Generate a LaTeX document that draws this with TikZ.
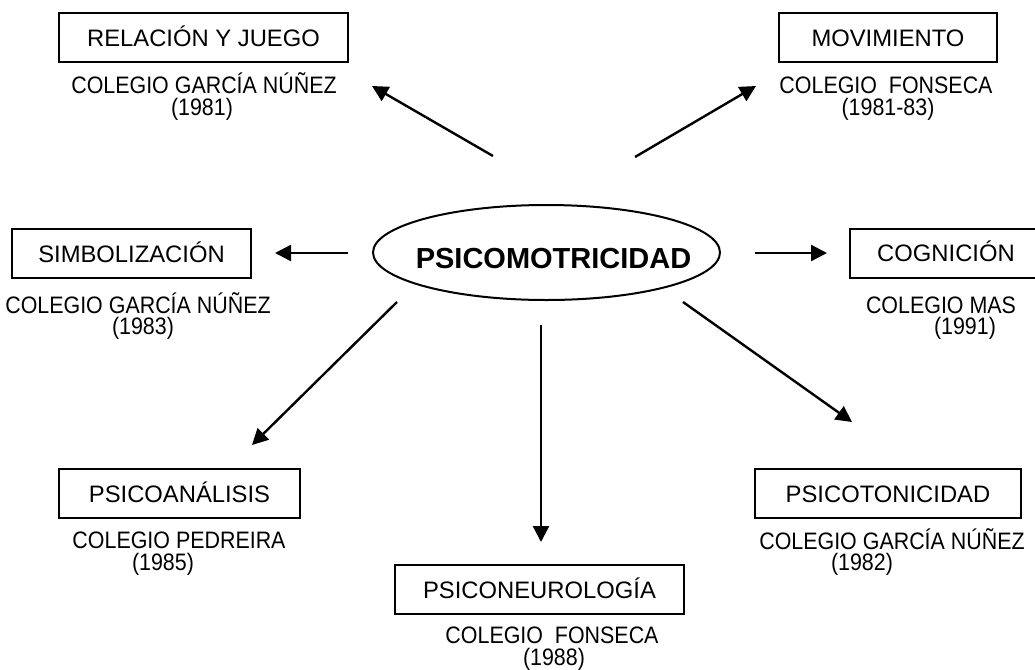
\documentclass[tikz,border=0pt]{standalone}
\usepackage{fontspec}
\setmainfont{Liberation Sans}
\newfontfamily\schoolfont{Liberation Sans}[FakeStretch=0.9]
\usetikzlibrary{arrows.meta,shapes.geometric}

\begin{document}
\begin{tikzpicture}[x=0.5pt, y=-0.5pt, >={Triangle[length=8pt,width=8pt]}, line width=1pt,
  every node/.style={font=\fontsize{11.9}{14}\selectfont, inner sep=0pt},
  topic/.style={draw, minimum height=24.5pt, minimum width=#1, text height=8.5pt, text depth=0pt},
  school/.style={anchor=base, font=\schoolfont\fontsize{11.9}{14}\selectfont}]
\useasboundingbox (0,0) rectangle (1035,670);
\clip (0,0) rectangle (1035,670);
\node[draw, ellipse, minimum width=173.5pt, minimum height=47.5pt, text height=15.9pt, text depth=0pt,
  font=\bfseries\fontsize{14.5}{17}\selectfont] (psico) at (546.5,252.5) {\makebox[0pt]{\hspace{7pt}PSICOMOTRICIDAD}};
\node[topic=144.5pt] (rel) at (203.5,37.5) {RELACIÓN Y JUEGO};
\node[school] (relc) at (204,93) {COLEGIO GARCÍA NÚÑEZ};
\node[school] (rely) at (202,115) {(1981)};
\node[topic=109pt] (mov) at (888,37.5) {MOVIMIENTO};
\node[school] (movc) at (886,93) {COLEGIO\ \ FONSECA};
\node[school] (movy) at (888,115) {(1981-83)};
\node[topic=119.5pt] (sim) at (131.5,253.5) {SIMBOLIZACIÓN};
\node[school] (simc) at (138,313) {COLEGIO GARCÍA NÚÑEZ};
\node[school] (simy) at (143,334) {(1983)};
\node[topic=96pt] (cog) at (946,253) {COGNICIÓN};
\node[school] (cogc) at (941,313) {COLEGIO MAS};
\node[school] (cogy) at (965,334) {(1991)};
\node[topic=120.5pt] (ana) at (179.5,493.5) {PSICOANÁLISIS};
\node[school] (anac) at (179,548) {COLEGIO PEDREIRA};
\node[school] (anay) at (163,570) {(1985)};
\node[topic=144.5pt] (neu) at (539.5,589.5) {PSICONEUROLOGÍA};
\node[school] (neuc) at (552,643) {COLEGIO\ \ FONSECA};
\node[school] (neuy) at (554,665) {(1988)};
\node[topic=133pt] (ton) at (888,493.5) {PSICOTONICIDAD};
\node[school] (tonc) at (892,549) {COLEGIO GARCÍA NÚÑEZ};
\node[school] (tony) at (862,570) {(1982)};
\coordinate (relA) at (493,156); \coordinate (relB) at (372,86);
\coordinate (movA) at (635,157); \coordinate (movB) at (756,86);
\coordinate (simA) at (348,253); \coordinate (simB) at (275,253);
\coordinate (cogA) at (755,253); \coordinate (cogB) at (827,253);
\coordinate (anaA) at (397,302); \coordinate (anaB) at (252,445);
\coordinate (neuA) at (541,325); \coordinate (neuB) at (541,542);
\coordinate (tonA) at (683,302); \coordinate (tonB) at (852,422);
\draw[->, line width=1.2pt] (relA) -- (relB);
\draw[->, line width=1.2pt] (movA) -- (movB);
\draw[->, line width=1.2pt] (simA) -- (simB);
\draw[->, line width=1.2pt] (cogA) -- (cogB);
\draw[->, line width=1.2pt] (anaA) -- (anaB);
\draw[->, line width=1.2pt] (neuA) -- (neuB);
\draw[->, line width=1.2pt] (tonA) -- (tonB);
\end{tikzpicture}
\end{document}
